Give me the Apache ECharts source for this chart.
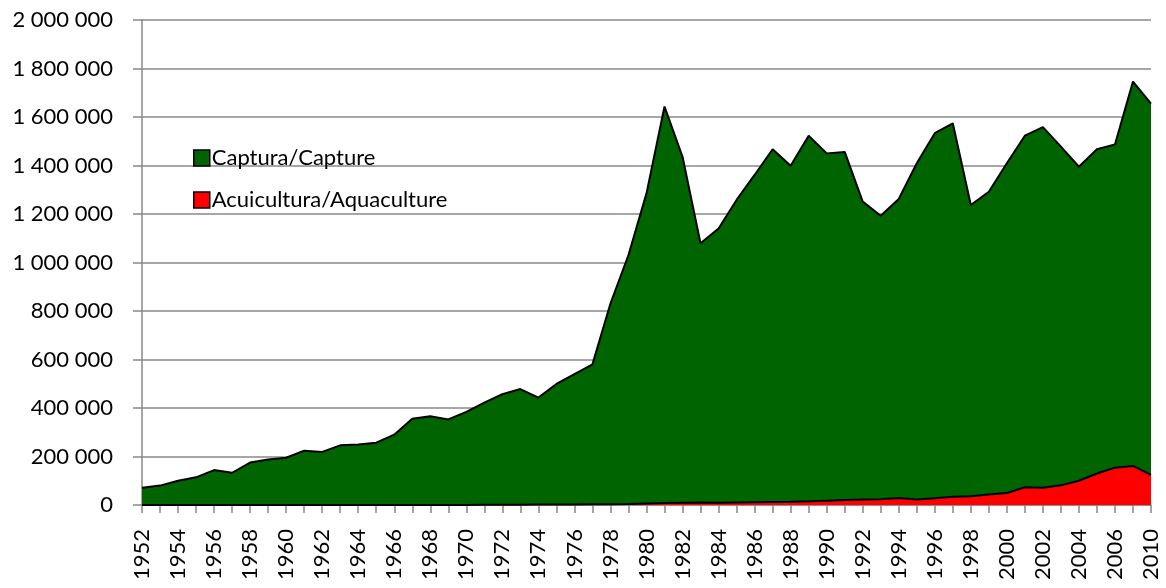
<!DOCTYPE html>
<html>
<head>
<meta charset="utf-8">
<script src="https://cdn.jsdelivr.net/npm/echarts@6/dist/echarts.min.js"></script>
<style>
html,body{margin:0;padding:0;background:#fff;}
#chart{width:1166px;height:588px;}
</style>
</head>
<body>
<div id="chart"></div>
<script>
const years = ['1952','1953','1954','1955','1956','1957','1958','1959','1960','1961','1962','1963','1964','1965','1966','1967','1968','1969','1970','1971','1972','1973','1974','1975','1976','1977','1978','1979','1980','1981','1982','1983','1984','1985','1986','1987','1988','1989','1990','1991','1992','1993','1994','1995','1996','1997','1998','1999','2000','2001','2002','2003','2004','2005','2006','2008','2010'];

const capture = [71000,80000,100000,114000,144000,133000,175000,188000,195000,224000,219000,246000,249000,257000,290000,356000,366000,353000,384000,422000,457000,478000,443000,499000,540000,580000,831000,1031000,1285000,1643000,1436000,1079000,1140000,1258000,1361000,1467000,1399000,1523000,1450000,1456000,1251000,1193000,1262000,1409000,1533000,1574000,1237000,1292000,1409000,1523000,1558000,1478000,1395000,1467000,1487000,1746000,1655000];

const aquaculture = [0,0,0,0,0,0,0,0,0,0,0,0,0,0,0,0,0,0,500,1000,1000,1500,2000,2000,2500,3000,3500,4000,6000,8000,9000,10000,9000,10000,11000,12000,13000,15000,18000,21000,23000,24000,29000,23000,28000,34000,36000,43000,49000,73000,71000,81000,100000,130000,154000,161000,124000];

const seriesNames = ['Captura/Capture','Acuicultura/Aquaculture'];
const yTicks = {min:0, max:2000000, interval:200000};

const FONT = 'Lato, "Open Sans", sans-serif';
const chart = echarts.init(document.getElementById('chart'), null, {renderer:'canvas'});

function fmt(v){
  return String(v).replace(/\B(?=(\d{3})+(?!\d))/g, ' ');
}

chart.setOption({
  animation:false,
  backgroundColor:'#ffffff',
  grid:{left:142, right:15, top:20, bottom:83, containLabel:false},
  legend:{
    orient:'vertical',
    left:188, top:142,
    itemWidth:16, itemHeight:16, itemGap:20,
    icon:'rect',
    data:seriesNames,
    textStyle:{fontFamily:FONT, fontSize:22, color:'#000', padding:[0,0,0,-3]},
    itemStyle:{borderColor:'#000', borderWidth:1.5}
  },
  xAxis:{
    type:'category',
    data:years,
    boundaryGap:false,
    axisLine:{show:true, lineStyle:{color:'#888', width:1.5}},
    axisTick:{show:true, interval:0, length:8, lineStyle:{color:'#888', width:1.5}},
    axisLabel:{interval:1, rotate:90, margin:24, fontFamily:FONT, fontSize:22, color:'#000'},
    splitLine:{show:false}
  },
  yAxis:{
    type:'value',
    min:yTicks.min, max:yTicks.max, interval:yTicks.interval,
    axisLine:{show:true, lineStyle:{color:'#888', width:1.5}},
    axisTick:{show:true, length:9, lineStyle:{color:'#888', width:1.5}},
    axisLabel:{margin:29, fontFamily:FONT, fontSize:22, color:'#000', formatter:fmt},
    splitLine:{show:true, lineStyle:{color:'#888', width:1.5}}
  },
  series:[
    {
      name:seriesNames[0], type:'line', data:capture,
      symbol:'none',
      lineStyle:{color:'#000', width:2},
      itemStyle:{color:'#006400', borderColor:'#000', borderWidth:1.5},
      areaStyle:{color:'#006400', opacity:1}
    },
    {
      name:seriesNames[1], type:'line', data:aquaculture,
      symbol:'none',
      lineStyle:{color:'#000', width:2},
      itemStyle:{color:'#ff0000', borderColor:'#000', borderWidth:1.5},
      areaStyle:{color:'#ff0000', opacity:1}
    }
  ]
});
</script>
</body>
</html>
